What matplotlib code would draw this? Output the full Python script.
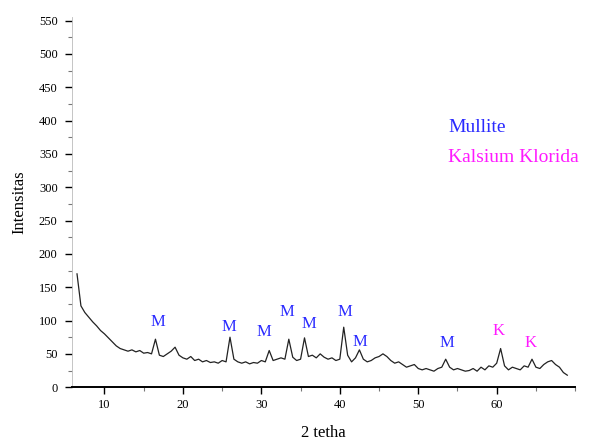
import numpy as np
import matplotlib.pyplot as plt
from matplotlib.ticker import MultipleLocator

# XRD pattern (2 theta step 0.5)
two_theta = np.arange(6.5, 69.01, 0.5)
intensity = [
    170, 122, 112, 105, 98, 92, 85, 80,
    74, 68, 62, 58, 56, 54, 56, 53, 55, 51,
    52, 50, 72, 48, 46, 50, 54, 60, 48, 44,
    42, 46, 40, 42, 38, 40, 37, 38, 36, 40,
    38, 75, 42, 38, 36, 38, 35, 37, 36, 40,
    38, 55, 40, 42, 44, 42, 72, 45, 40, 42,
    74, 46, 48, 44, 50, 45, 42, 44, 40, 42,
    90, 48, 38, 44, 56, 42, 38, 40, 44, 46,
    50, 46, 40, 36, 38, 34, 30, 32, 34, 28,
    26, 28, 26, 24, 28, 30, 42, 30, 26, 28,
    26, 24, 25, 28, 24, 30, 26, 32, 30, 36,
    58, 32, 26, 30, 28, 26, 32, 30, 42, 30,
    28, 34, 38, 40, 34, 30, 22, 18,
]

# peak labels: (2theta, height, letter)
peak_x = [16.8, 25.9, 30.3, 33.2, 36.0, 40.6, 42.5, 53.7, 60.3, 64.3]
peak_y = [98, 91, 83, 113, 95, 113, 68, 67, 85, 67]
peak_txt = ['M', 'M', 'M', 'M', 'M', 'M', 'M', 'M', 'K', 'K']

blue = '#2a2aff'
magenta = '#ff1aff'
serif = ['Liberation Serif', 'DejaVu Serif']

fig = plt.figure(figsize=(5.96, 4.43), dpi=100)
ax = fig.add_axes([0.12, 0.126, 0.845, 0.835])

ax.plot(two_theta, intensity, color='#222222', lw=0.9)

for px, py, t in zip(peak_x, peak_y, peak_txt):
    ax.text(px, py, t, color=magenta if t == 'K' else blue, fontsize=12,
            family=serif, ha='center', va='center')

ax.text(53.8, 389, 'Mullite', color=blue, fontsize=14, family=serif, va='center')
ax.text(53.8, 345, 'Kalsium Klorida', color=magenta, fontsize=14, family=serif, va='center')

ax.set_xlim(5.8, 70)
ax.set_ylim(0, 555)
ax.xaxis.set_minor_locator(MultipleLocator(5))
ax.yaxis.set_minor_locator(MultipleLocator(25))
ax.set_xticks(range(10, 70, 10))
ax.set_yticks(range(0, 551, 50))

for s in ['top', 'right']:
    ax.spines[s].set_visible(False)
ax.spines['left'].set_color('#bbbbbb')
ax.spines['left'].set_linewidth(0.6)
ax.spines['bottom'].set_linewidth(1.4)

ax.tick_params(axis='both', which='major', direction='out', length=5, width=1.0,
               labelsize=9)
ax.tick_params(axis='y', which='major', pad=5)
ax.tick_params(axis='both', which='minor', direction='out', length=3, width=0.8,
               color='#777777')
for lab in ax.get_xticklabels() + ax.get_yticklabels():
    lab.set_family(serif)

ax.set_xlabel('2 tetha', fontsize=12, family=serif, labelpad=10)
ax.set_ylabel('Intensitas', fontsize=12, family=serif, labelpad=8)

fig.savefig('out.png', dpi=100)
